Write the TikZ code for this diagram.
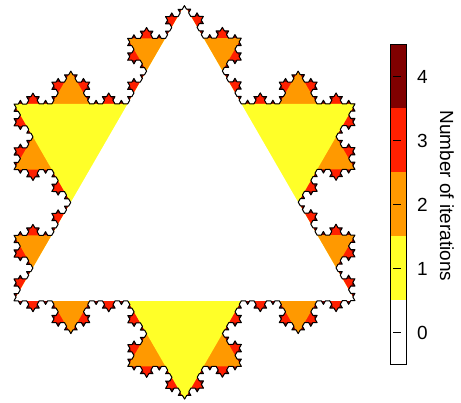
\documentclass[tikz,border=0pt]{standalone}
\usepackage{fontspec}
\setmainfont{Liberation Sans}
\usetikzlibrary{decorations.fractals}
\definecolor{lvA}{RGB}{255,255,40}
\definecolor{lvB}{RGB}{255,153,0}
\definecolor{lvC}{RGB}{255,32,0}
\definecolor{lvD}{RGB}{128,0,0}
\begin{document}
\begin{tikzpicture}[x=1pt,y=1pt, decoration=Koch snowflake,
  lab/.style={inner sep=0pt, font=\fontsize{19}{22}\selectfont},
  tick/.style={line width=1.2pt}]
\useasboundingbox[fill=white] (0,0) rectangle (461,403);
\coordinate (s) at (14,102.2);
\fill[lvD] decorate{decorate{decorate{decorate{(s) -- ++(60:341) -- ++(-60:341) -- (s)}}}};
\fill[lvC] decorate{decorate{decorate{(s) -- ++(60:341) -- ++(-60:341) -- (s)}}};
\fill[lvB] decorate{decorate{(s) -- ++(60:341) -- ++(-60:341) -- (s)}};
\fill[lvA] decorate{(s) -- ++(60:341) -- ++(-60:341) -- (s)};
\fill[white] (s) -- ++(60:341) -- ++(-60:341) -- cycle;
\draw[black, line width=1pt, line join=round] decorate{decorate{decorate{decorate{(s) -- ++(60:341) -- ++(-60:341) -- (s)}}}} -- cycle;
% colour bar
\fill[white] (390.5,38.5) rectangle (406.5,102.5);
\fill[lvA] (390.5,102.5) rectangle (406.5,166.5);
\fill[lvB] (390.5,166.5) rectangle (406.5,230.5);
\fill[lvC] (390.5,230.5) rectangle (406.5,294.5);
\fill[lvD] (390.5,294.5) rectangle (406.5,358.5);
\draw[line width=1.8pt] (390.5,38.5) rectangle (406.5,358.5);
\foreach \i/\y in {0/70.5,1/134.5,2/198.5,3/262.5,4/326.5}{
  \draw[tick] (393,\y) -- (401,\y);
  \node[lab] (l\i) at (422.5,\y) {\i};
}
\node[lab, rotate=-90] (title) at (447,207) {Number of iterations};
\end{tikzpicture}
\end{document}
